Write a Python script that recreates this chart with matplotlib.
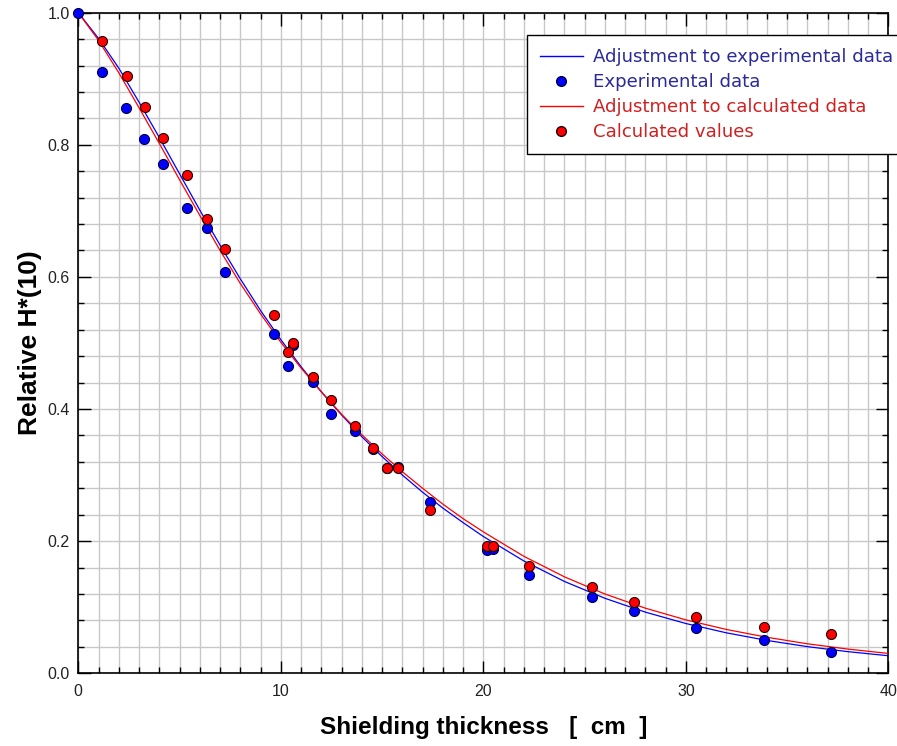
import matplotlib
matplotlib.use("Agg")
import matplotlib.pyplot as plt
from matplotlib.lines import Line2D
from matplotlib.ticker import MultipleLocator

# Measured relative H*(10) behind the shield
exp_x = [0, 1.17, 2.35, 3.24, 4.18, 5.37, 6.35, 7.25, 9.66, 10.35, 10.58, 11.57,
         12.47, 13.66, 14.56, 15.25, 15.76, 17.36, 20.16, 20.45, 22.26, 25.37,
         27.44, 30.52, 33.86, 37.15]
exp_y = [1.0, 0.910, 0.856, 0.809, 0.771, 0.704, 0.674, 0.607, 0.514, 0.465, 0.497,
         0.441, 0.392, 0.367, 0.339, 0.310, 0.313, 0.259, 0.187, 0.188, 0.148, 0.1155,
         0.094, 0.068, 0.050, 0.032]

# Calculated values
calc_x = [1.17, 2.39, 3.29, 4.20, 5.37, 6.37, 7.26, 9.67, 10.58, 10.37, 11.57, 12.47,
          13.66, 14.56, 15.25, 15.76, 17.36, 20.16, 20.45, 22.26, 25.37, 27.44,
          30.52, 33.86, 37.15]
calc_y = [0.957, 0.904, 0.857, 0.810, 0.755, 0.688, 0.643, 0.543, 0.500, 0.487, 0.4485,
          0.414, 0.375, 0.3415, 0.311, 0.311, 0.247, 0.193, 0.193, 0.162, 0.130, 0.108,
          0.0857, 0.0706, 0.060]

# Fitted curves: every 1 cm up to 20 cm, then every 2 cm
fit_x = [0, 1, 2, 3, 4, 5, 6, 7, 8, 9, 10, 11, 12, 13, 14, 15, 16, 17, 18, 19, 20,
         22, 24, 26, 28, 30, 32, 34, 36, 38, 40]
fit_exp = [1.000, 0.961, 0.916, 0.8645, 0.811, 0.756, 0.701, 0.648, 0.597, 0.549, 0.505,
           0.464, 0.426, 0.391, 0.358, 0.328, 0.300, 0.274, 0.250, 0.228, 0.207,
           0.170, 0.139, 0.1135, 0.0925, 0.0753, 0.0612, 0.0497, 0.0403, 0.0327, 0.0265]
fit_calc = [1.000, 0.958, 0.909, 0.856, 0.802, 0.747, 0.693, 0.640, 0.590, 0.544, 0.501,
            0.462, 0.426, 0.392, 0.361, 0.332, 0.305, 0.280, 0.256, 0.234, 0.214,
            0.177, 0.146, 0.120, 0.0985, 0.0808, 0.0663, 0.0545, 0.0446, 0.0366, 0.030]

fig = plt.figure(figsize=(8.97, 7.46), dpi=100)
ax = fig.add_axes([0.0873, 0.0975, 0.9032, 0.8855])

ax.plot(fit_x, fit_exp, color="#0000ff", lw=0.9, zorder=3)
ax.plot(fit_x, fit_calc, color="#ff0000", lw=0.9, zorder=3)
ax.plot(exp_x, exp_y, "o", ms=7.2, mfc="#0000ff", mec="#000040", mew=0.8, zorder=4,
        clip_on=False)
ax.plot(calc_x, calc_y, "o", ms=7.2, mfc="#ff0000", mec="#200000", mew=0.8, zorder=5,
        clip_on=False)

ax.set_xlim(0, 40)
ax.set_ylim(0, 1.0)
ax.xaxis.set_major_locator(MultipleLocator(10))
ax.xaxis.set_minor_locator(MultipleLocator(1))
ax.yaxis.set_major_locator(MultipleLocator(0.2))
ax.yaxis.set_minor_locator(MultipleLocator(0.04))
ax.yaxis.set_major_formatter(plt.FuncFormatter(lambda v, p: f"{v:.1f}"))
ax.grid(which="both", color="#c8c8c8", lw=1.0, zorder=0)
ax.set_axisbelow(True)
ax.tick_params(which="both", direction="in", top=True, right=True, colors="black",
               labelsize=11.5)
ax.tick_params(which="major", length=9, width=1)
ax.tick_params(which="minor", length=4, width=1)
ax.tick_params(axis="x", pad=8)
ax.tick_params(axis="y", pad=6)
for lab in ax.get_xticklabels() + ax.get_yticklabels():
    lab.set_family("Liberation Sans")
    lab.set_color("#222222")
for s in ax.spines.values():
    s.set_linewidth(1.2)

ax.set_xlabel("Shielding thickness   [  cm  ]", fontsize=17.5, fontweight="bold",
              family="Liberation Sans", labelpad=12)
ax.set_ylabel("Relative H*(10)", fontsize=19, fontweight="bold",
              family="Liberation Sans", labelpad=4)

handles = [
    Line2D([], [], color="#0000ff", lw=1.0),
    Line2D([], [], ls="", marker="o", ms=7, mfc="#0000ff", mec="#000040"),
    Line2D([], [], color="#ff0000", lw=1.0),
    Line2D([], [], ls="", marker="o", ms=7, mfc="#ff0000", mec="#200000"),
]
labels = ["Adjustment to experimental data", "Experimental data",
          "Adjustment to calculated data", "Calculated values"]
leg = fig.legend(handles, labels, loc="upper left", bbox_to_anchor=(527 / 897, 1 - 35 / 746),
                 frameon=True, fancybox=False, edgecolor="black", framealpha=1,
                 prop={"family": "DejaVu Sans", "size": 13.1},
                 labelcolor=["#2a2a9a", "#2a2a9a", "#d02020", "#d02020"],
                 handlelength=2.35, handletextpad=0.55, labelspacing=0.39,
                 borderpad=0.72, borderaxespad=0)
leg.get_frame().set_linewidth(1.0)

fig.savefig("out.png", dpi=100)
